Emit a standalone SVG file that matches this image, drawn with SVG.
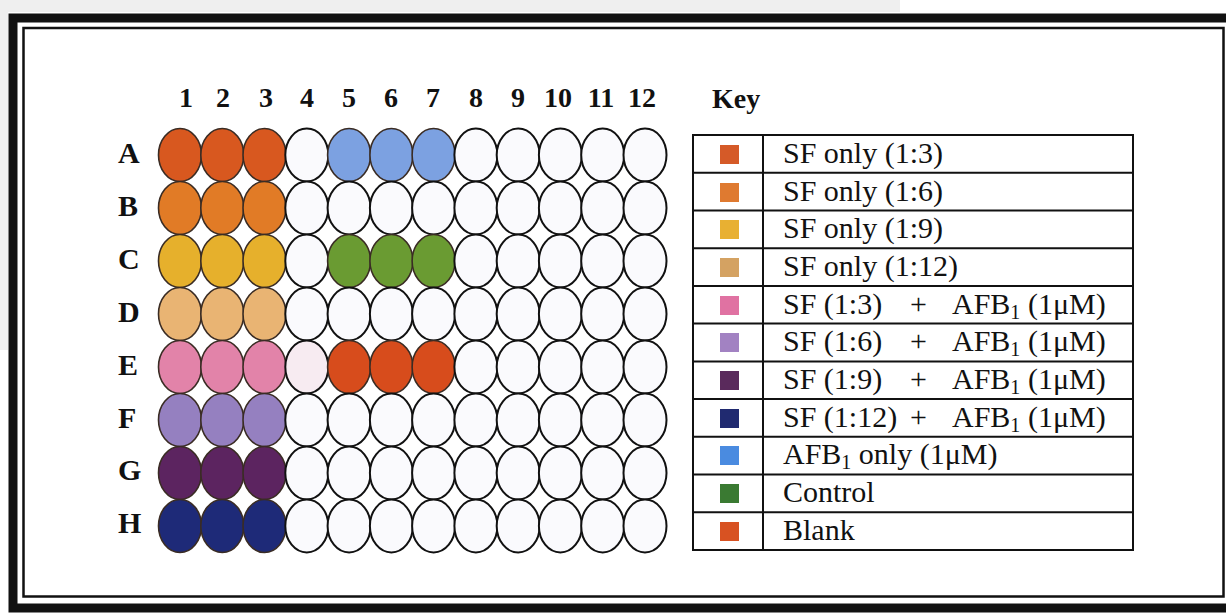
<svg xmlns="http://www.w3.org/2000/svg" width="1226" height="615" viewBox="0 0 1226 615">
<style>
.frame-thick{fill:none;stroke:#111;stroke-width:9}
.frame-thin{fill:none;stroke:#111;stroke-width:2.5}
.hdr{font-family:"Liberation Serif","Times New Roman",serif;font-weight:bold;font-size:28px;fill:#111;text-anchor:middle}
.row{font-family:"Liberation Serif","Times New Roman",serif;font-weight:bold;font-size:30px;fill:#111}
.key{font-family:"Liberation Serif","Times New Roman",serif;font-size:30px;fill:#111}
.sub{font-size:20px}
.w{stroke:#111;stroke-width:2;fill:#fafafd}
.c{stroke:#3a2c24;stroke-width:1.6}
.tl{stroke:#111;stroke-width:2;fill:none}
</style>
<rect x="0" y="0" width="1226" height="615" fill="#ffffff"/>
<rect x="0" y="0" width="900" height="12" fill="#efefef"/>
<rect x="0" y="0" width="8" height="350" fill="#efefef"/>
<g id="frame">
<rect class="frame-thick" x="13" y="18" width="1240" height="590"/>
<rect class="frame-thin" x="23.5" y="28" width="1200" height="568.5"/>
</g>
<g id="column-headers">
<text class="hdr" x="186" y="107">1</text>
<text class="hdr" x="223" y="107">2</text>
<text class="hdr" x="266" y="107">3</text>
<text class="hdr" x="307" y="107">4</text>
<text class="hdr" x="349" y="107">5</text>
<text class="hdr" x="391" y="107">6</text>
<text class="hdr" x="433" y="107">7</text>
<text class="hdr" x="476" y="107">8</text>
<text class="hdr" x="518" y="107">9</text>
<text class="hdr" x="558" y="107">10</text>
<text class="hdr" x="601" y="107">11</text>
<text class="hdr" x="642" y="107">12</text>
</g>
<g id="row-labels">
<text class="row" x="118" y="163">A</text>
<text class="row" x="118" y="216">B</text>
<text class="row" x="118" y="269">C</text>
<text class="row" x="118" y="322">D</text>
<text class="row" x="118" y="375">E</text>
<text class="row" x="118" y="428">F</text>
<text class="row" x="118" y="480">G</text>
<text class="row" x="118" y="533">H</text>
</g>
<g id="wells">
<g id="row-A">
<ellipse class="c" cx="180" cy="155" rx="21.5" ry="26.5" fill="#d8581f"/>
<ellipse class="c" cx="222.3" cy="155" rx="21.5" ry="26.5" fill="#d8581f"/>
<ellipse class="c" cx="264.5" cy="155" rx="21.5" ry="26.5" fill="#d8581f"/>
<ellipse class="w" cx="306.8" cy="155" rx="21.5" ry="26.5"/>
<ellipse class="c" cx="349.1" cy="155" rx="21.5" ry="26.5" fill="#7ca1e1"/>
<ellipse class="c" cx="391.4" cy="155" rx="21.5" ry="26.5" fill="#7ca1e1"/>
<ellipse class="c" cx="433.6" cy="155" rx="21.5" ry="26.5" fill="#7ca1e1"/>
<ellipse class="w" cx="475.9" cy="155" rx="21.5" ry="26.5"/>
<ellipse class="w" cx="518.2" cy="155" rx="21.5" ry="26.5"/>
<ellipse class="w" cx="560.4" cy="155" rx="21.5" ry="26.5"/>
<ellipse class="w" cx="602.7" cy="155" rx="21.5" ry="26.5"/>
<ellipse class="w" cx="645" cy="155" rx="21.5" ry="26.5"/>
</g>
<g id="row-B">
<ellipse class="c" cx="180" cy="208" rx="21.5" ry="26.5" fill="#e17b26"/>
<ellipse class="c" cx="222.3" cy="208" rx="21.5" ry="26.5" fill="#e17b26"/>
<ellipse class="c" cx="264.5" cy="208" rx="21.5" ry="26.5" fill="#e17b26"/>
<ellipse class="w" cx="306.8" cy="208" rx="21.5" ry="26.5"/>
<ellipse class="w" cx="349.1" cy="208" rx="21.5" ry="26.5"/>
<ellipse class="w" cx="391.4" cy="208" rx="21.5" ry="26.5"/>
<ellipse class="w" cx="433.6" cy="208" rx="21.5" ry="26.5"/>
<ellipse class="w" cx="475.9" cy="208" rx="21.5" ry="26.5"/>
<ellipse class="w" cx="518.2" cy="208" rx="21.5" ry="26.5"/>
<ellipse class="w" cx="560.4" cy="208" rx="21.5" ry="26.5"/>
<ellipse class="w" cx="602.7" cy="208" rx="21.5" ry="26.5"/>
<ellipse class="w" cx="645" cy="208" rx="21.5" ry="26.5"/>
</g>
<g id="row-C">
<ellipse class="c" cx="180" cy="261" rx="21.5" ry="26.5" fill="#e6b02c"/>
<ellipse class="c" cx="222.3" cy="261" rx="21.5" ry="26.5" fill="#e6b02c"/>
<ellipse class="c" cx="264.5" cy="261" rx="21.5" ry="26.5" fill="#e6b02c"/>
<ellipse class="w" cx="306.8" cy="261" rx="21.5" ry="26.5"/>
<ellipse class="c" cx="349.1" cy="261" rx="21.5" ry="26.5" fill="#6a9b32"/>
<ellipse class="c" cx="391.4" cy="261" rx="21.5" ry="26.5" fill="#6a9b32"/>
<ellipse class="c" cx="433.6" cy="261" rx="21.5" ry="26.5" fill="#6a9b32"/>
<ellipse class="w" cx="475.9" cy="261" rx="21.5" ry="26.5"/>
<ellipse class="w" cx="518.2" cy="261" rx="21.5" ry="26.5"/>
<ellipse class="w" cx="560.4" cy="261" rx="21.5" ry="26.5"/>
<ellipse class="w" cx="602.7" cy="261" rx="21.5" ry="26.5"/>
<ellipse class="w" cx="645" cy="261" rx="21.5" ry="26.5"/>
</g>
<g id="row-D">
<ellipse class="c" cx="180" cy="314" rx="21.5" ry="26.5" fill="#e9b473"/>
<ellipse class="c" cx="222.3" cy="314" rx="21.5" ry="26.5" fill="#e9b473"/>
<ellipse class="c" cx="264.5" cy="314" rx="21.5" ry="26.5" fill="#e9b473"/>
<ellipse class="w" cx="306.8" cy="314" rx="21.5" ry="26.5"/>
<ellipse class="w" cx="349.1" cy="314" rx="21.5" ry="26.5"/>
<ellipse class="w" cx="391.4" cy="314" rx="21.5" ry="26.5"/>
<ellipse class="w" cx="433.6" cy="314" rx="21.5" ry="26.5"/>
<ellipse class="w" cx="475.9" cy="314" rx="21.5" ry="26.5"/>
<ellipse class="w" cx="518.2" cy="314" rx="21.5" ry="26.5"/>
<ellipse class="w" cx="560.4" cy="314" rx="21.5" ry="26.5"/>
<ellipse class="w" cx="602.7" cy="314" rx="21.5" ry="26.5"/>
<ellipse class="w" cx="645" cy="314" rx="21.5" ry="26.5"/>
</g>
<g id="row-E">
<ellipse class="c" cx="180" cy="367" rx="21.5" ry="26.5" fill="#e283a9"/>
<ellipse class="c" cx="222.3" cy="367" rx="21.5" ry="26.5" fill="#e283a9"/>
<ellipse class="c" cx="264.5" cy="367" rx="21.5" ry="26.5" fill="#e283a9"/>
<ellipse class="w" cx="306.8" cy="367" rx="21.5" ry="26.5" style="fill:#f7ebf1"/>
<ellipse class="c" cx="349.1" cy="367" rx="21.5" ry="26.5" fill="#d74c1c"/>
<ellipse class="c" cx="391.4" cy="367" rx="21.5" ry="26.5" fill="#d74c1c"/>
<ellipse class="c" cx="433.6" cy="367" rx="21.5" ry="26.5" fill="#d74c1c"/>
<ellipse class="w" cx="475.9" cy="367" rx="21.5" ry="26.5"/>
<ellipse class="w" cx="518.2" cy="367" rx="21.5" ry="26.5"/>
<ellipse class="w" cx="560.4" cy="367" rx="21.5" ry="26.5"/>
<ellipse class="w" cx="602.7" cy="367" rx="21.5" ry="26.5"/>
<ellipse class="w" cx="645" cy="367" rx="21.5" ry="26.5"/>
</g>
<g id="row-F">
<ellipse class="c" cx="180" cy="420" rx="21.5" ry="26.5" fill="#9580c0"/>
<ellipse class="c" cx="222.3" cy="420" rx="21.5" ry="26.5" fill="#9580c0"/>
<ellipse class="c" cx="264.5" cy="420" rx="21.5" ry="26.5" fill="#9580c0"/>
<ellipse class="w" cx="306.8" cy="420" rx="21.5" ry="26.5"/>
<ellipse class="w" cx="349.1" cy="420" rx="21.5" ry="26.5"/>
<ellipse class="w" cx="391.4" cy="420" rx="21.5" ry="26.5"/>
<ellipse class="w" cx="433.6" cy="420" rx="21.5" ry="26.5"/>
<ellipse class="w" cx="475.9" cy="420" rx="21.5" ry="26.5"/>
<ellipse class="w" cx="518.2" cy="420" rx="21.5" ry="26.5"/>
<ellipse class="w" cx="560.4" cy="420" rx="21.5" ry="26.5"/>
<ellipse class="w" cx="602.7" cy="420" rx="21.5" ry="26.5"/>
<ellipse class="w" cx="645" cy="420" rx="21.5" ry="26.5"/>
</g>
<g id="row-G">
<ellipse class="c" cx="180" cy="473" rx="21.5" ry="26.5" fill="#5c2460"/>
<ellipse class="c" cx="222.3" cy="473" rx="21.5" ry="26.5" fill="#5c2460"/>
<ellipse class="c" cx="264.5" cy="473" rx="21.5" ry="26.5" fill="#5c2460"/>
<ellipse class="w" cx="306.8" cy="473" rx="21.5" ry="26.5"/>
<ellipse class="w" cx="349.1" cy="473" rx="21.5" ry="26.5"/>
<ellipse class="w" cx="391.4" cy="473" rx="21.5" ry="26.5"/>
<ellipse class="w" cx="433.6" cy="473" rx="21.5" ry="26.5"/>
<ellipse class="w" cx="475.9" cy="473" rx="21.5" ry="26.5"/>
<ellipse class="w" cx="518.2" cy="473" rx="21.5" ry="26.5"/>
<ellipse class="w" cx="560.4" cy="473" rx="21.5" ry="26.5"/>
<ellipse class="w" cx="602.7" cy="473" rx="21.5" ry="26.5"/>
<ellipse class="w" cx="645" cy="473" rx="21.5" ry="26.5"/>
</g>
<g id="row-H">
<ellipse class="c" cx="180" cy="526" rx="21.5" ry="26.5" fill="#1e2a78"/>
<ellipse class="c" cx="222.3" cy="526" rx="21.5" ry="26.5" fill="#1e2a78"/>
<ellipse class="c" cx="264.5" cy="526" rx="21.5" ry="26.5" fill="#1e2a78"/>
<ellipse class="w" cx="306.8" cy="526" rx="21.5" ry="26.5"/>
<ellipse class="w" cx="349.1" cy="526" rx="21.5" ry="26.5"/>
<ellipse class="w" cx="391.4" cy="526" rx="21.5" ry="26.5"/>
<ellipse class="w" cx="433.6" cy="526" rx="21.5" ry="26.5"/>
<ellipse class="w" cx="475.9" cy="526" rx="21.5" ry="26.5"/>
<ellipse class="w" cx="518.2" cy="526" rx="21.5" ry="26.5"/>
<ellipse class="w" cx="560.4" cy="526" rx="21.5" ry="26.5"/>
<ellipse class="w" cx="602.7" cy="526" rx="21.5" ry="26.5"/>
<ellipse class="w" cx="645" cy="526" rx="21.5" ry="26.5"/>
</g>
</g>
<g id="key">
<text class="row" x="712" y="108" style="font-size:28px">Key</text>
<g id="key-grid">
<rect class="tl" x="693" y="135" width="440" height="415"/>
<line class="tl" x1="763" y1="135" x2="763" y2="550"/>
<line class="tl" x1="693" y1="172.7" x2="1133" y2="172.7"/>
<line class="tl" x1="693" y1="210.5" x2="1133" y2="210.5"/>
<line class="tl" x1="693" y1="248.2" x2="1133" y2="248.2"/>
<line class="tl" x1="693" y1="285.9" x2="1133" y2="285.9"/>
<line class="tl" x1="693" y1="323.6" x2="1133" y2="323.6"/>
<line class="tl" x1="693" y1="361.4" x2="1133" y2="361.4"/>
<line class="tl" x1="693" y1="399.1" x2="1133" y2="399.1"/>
<line class="tl" x1="693" y1="436.8" x2="1133" y2="436.8"/>
<line class="tl" x1="693" y1="474.5" x2="1133" y2="474.5"/>
<line class="tl" x1="693" y1="512.3" x2="1133" y2="512.3"/>
</g>
<g id="key-1"><rect x="720" y="145" width="19" height="19" fill="#d55a28"/><text class="key" x="783" y="163">SF only (1:3)</text></g>
<g id="key-2"><rect x="720" y="183" width="19" height="19" fill="#df7a30"/><text class="key" x="783" y="201">SF only (1:6)</text></g>
<g id="key-3"><rect x="720" y="220" width="19" height="19" fill="#e8b032"/><text class="key" x="783" y="238">SF only (1:9)</text></g>
<g id="key-4"><rect x="720" y="258" width="19" height="19" fill="#d4a262"/><text class="key" x="783" y="276">SF only (1:12)</text></g>
<g id="key-5"><rect x="720" y="296" width="19" height="19" fill="#e072a2"/><text class="key" x="783" y="314">SF (1:3)</text><text class="key" x="910" y="314">+</text><text class="key" x="952" y="314">AFB<tspan class="sub" dy="5">1</tspan></text><text class="key" x="1028" y="314">(1μM)</text></g>
<g id="key-6"><rect x="720" y="333" width="19" height="19" fill="#a282c2"/><text class="key" x="783" y="351">SF (1:6)</text><text class="key" x="910" y="351">+</text><text class="key" x="952" y="351">AFB<tspan class="sub" dy="5">1</tspan></text><text class="key" x="1028" y="351">(1μM)</text></g>
<g id="key-7"><rect x="720" y="371" width="19" height="19" fill="#5a2a5c"/><text class="key" x="783" y="389">SF (1:9)</text><text class="key" x="910" y="389">+</text><text class="key" x="952" y="389">AFB<tspan class="sub" dy="5">1</tspan></text><text class="key" x="1028" y="389">(1μM)</text></g>
<g id="key-8"><rect x="720" y="409" width="19" height="19" fill="#202a70"/><text class="key" x="783" y="427">SF (1:12)</text><text class="key" x="910" y="427">+</text><text class="key" x="952" y="427">AFB<tspan class="sub" dy="5">1</tspan></text><text class="key" x="1028" y="427">(1μM)</text></g>
<g id="key-9"><rect x="720" y="446" width="19" height="19" fill="#4a8be0"/><text class="key" x="783" y="464">AFB<tspan class="sub" dy="5">1</tspan><tspan dy="-5"> only (1μM)</tspan></text></g>
<g id="key-10"><rect x="720" y="484" width="19" height="19" fill="#3a7a32"/><text class="key" x="783" y="502">Control</text></g>
<g id="key-11"><rect x="720" y="522" width="19" height="19" fill="#d85222"/><text class="key" x="783" y="540">Blank</text></g>
</g>
</svg>
